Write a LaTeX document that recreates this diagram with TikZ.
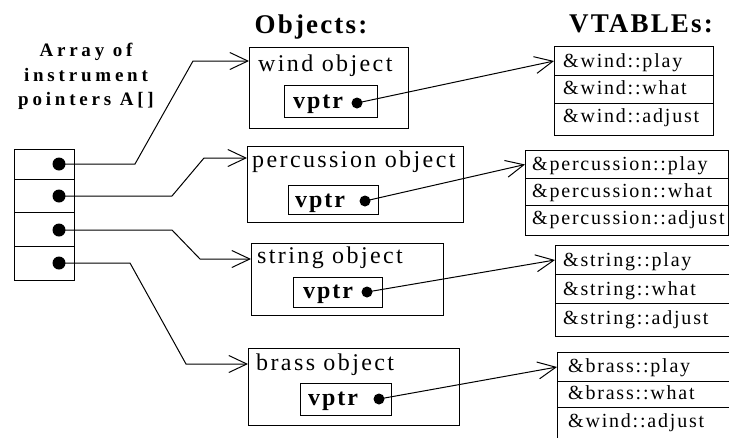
\documentclass[tikz,border=0pt]{standalone}
\usepackage{fontspec}
\setmainfont{Liberation Serif}
\newfontfamily\objf[LetterSpace=10]{Liberation Serif}
\newfontfamily\vtf[LetterSpace=9]{Liberation Serif}
\newfontfamily\ttlf[LetterSpace=20]{Liberation Serif}
\newfontfamily\hdf[LetterSpace=8]{Liberation Serif}
\newfontfamily\vpf[LetterSpace=8]{Liberation Serif}
\usetikzlibrary{arrows.meta}
\begin{document}
\begin{tikzpicture}[x=1pt,y=-1pt,
  box/.style={draw, line width=1pt, inner sep=0pt, anchor=north west},
  dot/.style={circle, fill=black, inner sep=0pt, minimum size=#1},
  dot/.default=11pt,
  txt/.style={inner sep=0pt, anchor=base west},
  objlbl/.style={txt, font=\objf\fontsize{24}{28}\selectfont},
  vplbl/.style={txt, font=\vpf\bfseries\fontsize{24}{28}\selectfont},
  vtlbl/.style={txt, font=\vtf\fontsize{20}{24}\selectfont},
  hdr/.style={inner sep=0pt, anchor=base, font=\hdf\bfseries\fontsize{27}{32}\selectfont},
  ttl/.style={inner sep=0pt, anchor=base, font=\ttlf\bfseries\fontsize{19}{23}\selectfont},
  ptr/.style={line width=1pt, -{Straight Barb[length=18pt, width=17pt, line width=1pt]}},
]
\useasboundingbox (0,0) rectangle (729,437);
\clip (0,0) rectangle (729,437);

% title and headers
\node[ttl] (t1) at (86,56) {Array of};
\node[ttl] (t2) at (86,81) {instrument};
\node[ttl] (t3) at (86,105) {pointers A[]};
\node[hdr] (hobj) at (311,33) {Objects:};
\node[hdr] (hvt) at (641,32) {VTABLEs:};

% array of pointers
\node[box, minimum width=60pt, minimum height=30pt] (a1) at (14,149) {};
\node[box, minimum width=60pt, minimum height=33pt] (a2) at (14,179) {};
\node[box, minimum width=60pt, minimum height=34pt] (a3) at (14,212) {};
\node[box, minimum width=60pt, minimum height=34pt] (a4) at (14,246) {};
\node[dot=13pt] (p1) at (59,164) {};
\node[dot=13pt] (p2) at (59,196) {};
\node[dot=13pt] (p3) at (59,230) {};
\node[dot=13pt] (p4) at (59,263) {};

% objects
\node[box, minimum width=159pt, minimum height=81pt] (wobj) at (249,47) {};
\node[objlbl] (wlbl) at (258,71) {wind object};
\node[box, minimum width=93pt, minimum height=32pt] (wvp) at (284,85) {};
\node[vplbl] (wvpt) at (293,108) {vptr};
\node[dot] (wd) at (357,103) {};

\node[box, minimum width=216pt, minimum height=76pt] (pobj) at (247,146) {};
\node[objlbl] (plbl) at (252,167) {percussion object};
\node[box, minimum width=90pt, minimum height=29pt] (pvp) at (288,185) {};
\node[vplbl] (pvpt) at (295,207) {vptr};
\node[dot] (pd) at (365,201) {};

\node[box, minimum width=192pt, minimum height=72pt] (sobj) at (251,243) {};
\node[objlbl] (slbl) at (257,263) {string object};
\node[box, minimum width=89pt, minimum height=30pt] (svp) at (293,277) {};
\node[vplbl] (svpt) at (303,298) {vptr};
\node[dot] (sd) at (367,292) {};

\node[box, minimum width=211pt, minimum height=77pt] (bobj) at (248,348) {};
\node[objlbl] (blbl) at (256,370) {brass object};
\node[box, minimum width=91pt, minimum height=32pt] (bvp) at (300,383) {};
\node[vplbl] (bvpt) at (308,405) {vptr};
\node[dot] (bd) at (379,399) {};

% vtables
\node[box, minimum width=159pt, minimum height=29pt] (wv1) at (554,46) {};
\node[box, minimum width=159pt, minimum height=28pt] (wv2) at (554,75) {};
\node[box, minimum width=159pt, minimum height=32pt] (wv3) at (554,103) {};
\node[vtlbl] (wt1) at (563,67) {\&wind::play};
\node[vtlbl] (wt2) at (563,94) {\&wind::what};
\node[vtlbl] (wt3) at (563,122) {\&wind::adjust};

\node[box, minimum width=203pt, minimum height=28pt] (pv1) at (525,150) {};
\node[box, minimum width=203pt, minimum height=27pt] (pv2) at (525,178) {};
\node[box, minimum width=203pt, minimum height=30pt] (pv3) at (525,205) {};
\node[vtlbl] (pt1) at (532,170) {\&percussion::play};
\node[vtlbl] (pt2) at (532,197) {\&percussion::what};
\node[vtlbl] (pt3) at (532,224) {\&percussion::adjust};

\node[box, minimum width=200pt, minimum height=29pt] (sv1) at (555,245) {};
\node[box, minimum width=200pt, minimum height=29pt] (sv2) at (555,274) {};
\node[box, minimum width=200pt, minimum height=33pt] (sv3) at (555,303) {};
\node[vtlbl] (st1) at (563,266) {\&string::play};
\node[vtlbl] (st2) at (563,295) {\&string::what};
\node[vtlbl] (st3) at (563,324) {\&string::adjust};

\node[box, minimum width=200pt, minimum height=29pt] (bv1) at (557,352) {};
\node[box, minimum width=200pt, minimum height=26pt] (bv2) at (557,381) {};
\node[box, minimum width=200pt, minimum height=40pt] (bv3) at (557,407) {};
\node[vtlbl] (bt1) at (568,372) {\&brass::play};
\node[vtlbl] (bt2) at (568,399) {\&brass::what};
\node[vtlbl] (bt3) at (568,427) {\&wind::adjust};

% pointer connectors
\coordinate (c1a) at (135,164); \coordinate (c1b) at (193,61);
\coordinate (c2a) at (172,196); \coordinate (c2b) at (204,158);
\coordinate (c3a) at (172,230); \coordinate (c3b) at (200,259);
\coordinate (c4a) at (130,263); \coordinate (c4b) at (186,364);
\draw[ptr] (p1.center) -- (c1a) -- (c1b) -- (c1b -| wobj.west);
\draw[ptr] (p2.center) -- (c2a) -- (c2b) -- (c2b -| pobj.west);
\draw[ptr] (p3.center) -- (c3a) -- (c3b) -- (c3b -| sobj.west);
\draw[ptr] (p4.center) -- (c4a) -- (c4b) -- (c4b -| bobj.west);

\draw[ptr] (wd.center) -- (wv1.west);
\draw[ptr] (pd.center) -- (pv1.west);
\draw[ptr] (sd.center) -- (sv1.west);
\draw[ptr] (bd.center) -- (bv1.west);
\end{tikzpicture}
\end{document}
